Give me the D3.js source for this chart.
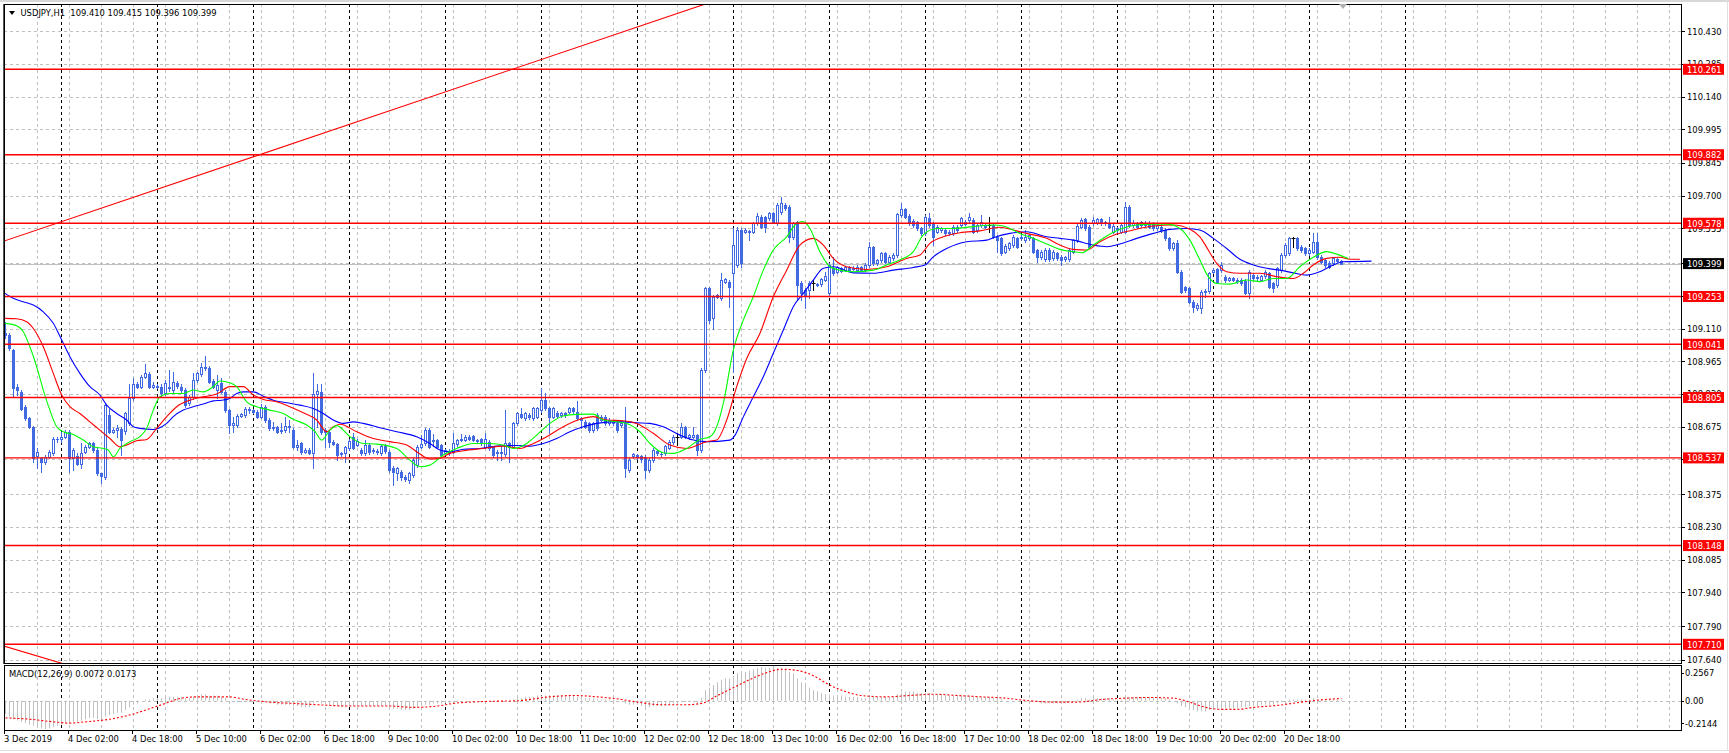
<!DOCTYPE html>
<html><head><meta charset="utf-8">
<script src="https://cdn.jsdelivr.net/npm/d3@7"></script>
<style>html,body{margin:0;padding:0;background:#fff;overflow:hidden}text{font-family:"DejaVu Sans Condensed","Liberation Sans",Arial,sans-serif;font-size:9.3px}</style>
</head><body>
<svg id="c" width="1729" height="753"></svg>
<script>
// ---------------- DATA ----------------
const symbolTitle = "USDJPY,H1  109.410 109.415 109.396 109.399";
const macdTitle = "MACD(12,26,9) 0.0072 0.0173";
const priceTicks = [110.430,110.285,110.140,109.995,109.845,109.700,109.555,109.400,109.255,109.110,108.965,108.820,108.675,108.530,108.375,108.230,108.085,107.940,107.790,107.640];
const levelLines = [110.261,109.882,109.578,109.253,109.041,108.805,108.537,108.148,107.710];
const bidPrice = 109.399;
const macdTicks = [0.2567, 0.00, -0.2144];
const macdTickText = ["0.2567","0.00","-0.2144"];
const timeLabelIdx = [0,16,32,48,64,80,96,112,128,144,160,176,192,208,224,240,256,272,288,304,320];
const timeLabels = ["3 Dec 2019","4 Dec 02:00","4 Dec 18:00","5 Dec 10:00","6 Dec 02:00","6 Dec 18:00","9 Dec 10:00","10 Dec 02:00","10 Dec 18:00","11 Dec 10:00","12 Dec 02:00","12 Dec 18:00","13 Dec 10:00","16 Dec 02:00","16 Dec 18:00","17 Dec 10:00","18 Dec 02:00","18 Dec 18:00","19 Dec 10:00","20 Dec 02:00","20 Dec 18:00"];
const dayStartIdx = [14,38,62,86,110,134,158,182,206,230,254,278,302,326,350];
// trend lines: anchor bar indices and prices
const trendUpIdx = [0,175], trendUpPrice = [109.501,110.551];
const trendDnIdx = [0,14], trendDnPrice = [107.700,107.626];

const opens = [
109.090,109.082,109.015,108.853,108.830,108.764,108.712,108.675,108.545,108.535,
108.520,108.542,108.557,108.623,108.623,108.631,108.653,108.535,108.545,108.512,
108.564,108.586,108.601,108.572,108.468,108.453,108.727,108.653,108.660,108.664,
108.655,108.690,108.801,108.865,108.853,108.897,108.909,108.853,108.858,108.853,
108.823,108.853,108.838,108.870,108.853,108.838,108.779,108.808,108.882,108.909,
108.938,108.938,108.879,108.838,108.870,108.830,108.749,108.683,108.683,108.724,
108.727,108.752,108.749,108.742,108.720,108.764,108.705,108.668,108.672,108.655,
108.660,108.678,108.660,108.586,108.601,108.564,108.572,108.557,108.820,108.830,
108.660,108.653,108.609,108.597,108.554,108.557,108.579,108.631,108.594,108.572,
108.557,108.594,108.566,108.569,108.557,108.590,108.564,108.490,108.468,108.476,
108.453,108.439,108.461,108.505,108.586,108.601,108.660,108.614,108.616,108.594,
108.560,108.569,108.564,108.598,108.616,108.616,108.631,108.634,108.613,108.619,
108.586,108.609,108.586,108.557,108.564,108.554,108.601,108.586,108.690,108.730,
108.712,108.727,108.712,108.720,108.749,108.794,108.757,108.720,108.737,108.727,
108.734,108.742,108.757,108.742,108.712,108.697,108.690,108.660,108.727,108.705,
108.720,108.690,108.697,108.693,108.683,108.690,108.483,108.545,108.549,108.545,
108.542,108.483,108.527,108.566,108.556,108.557,108.583,108.609,108.631,108.631,
108.675,108.631,108.631,108.638,108.572,108.927,109.289,109.156,109.252,109.245,
109.319,109.319,109.356,109.393,109.548,109.540,109.543,109.540,109.577,109.607,
109.604,109.600,109.622,109.577,109.629,109.659,109.651,109.518,109.585,109.311,
109.282,109.282,109.311,109.308,109.308,109.326,109.267,109.378,109.363,109.378,
109.372,109.383,109.376,109.372,109.385,109.372,109.393,109.471,109.400,109.415,
109.444,109.407,109.422,109.437,109.614,109.639,109.610,109.589,109.585,109.555,
109.533,109.600,109.577,109.540,109.548,109.548,109.540,109.533,109.563,109.570,
109.585,109.592,109.592,109.548,109.570,109.570,109.570,109.570,109.518,109.511,
109.452,109.466,109.481,109.511,109.511,109.503,109.511,109.511,109.459,109.429,
109.418,109.459,109.422,109.444,109.429,109.418,109.418,109.452,109.503,109.563,
109.595,109.563,109.577,109.580,109.595,109.577,109.577,109.540,109.555,109.540,
109.540,109.651,109.570,109.577,109.570,109.580,109.580,109.577,109.555,109.563,
109.548,109.511,109.466,109.489,109.363,109.296,109.289,109.230,109.200,109.200,
109.271,109.279,109.363,109.373,109.370,109.341,109.326,109.333,109.326,109.326,
109.323,109.270,109.348,109.333,109.326,109.344,109.356,109.311,109.304,109.370,
109.437,109.444,109.511,109.511,109.474,109.466,109.444,109.452,109.496,109.429,
109.415,109.400,109.400,109.420,109.410];
const highs = [
109.141,109.089,109.020,108.867,108.838,108.770,108.720,108.680,108.579,108.540,
108.550,108.572,108.631,108.631,108.653,108.660,108.660,108.580,108.560,108.601,
108.594,108.609,108.609,108.580,108.470,108.779,108.756,108.668,108.683,108.672,
108.742,108.867,108.890,108.875,108.905,108.952,108.920,108.875,108.865,108.867,
108.882,108.927,108.919,108.878,108.867,108.845,108.815,108.912,108.920,108.959,
108.989,108.945,108.885,108.904,108.890,108.838,108.756,108.720,108.730,108.737,
108.764,108.764,108.756,108.749,108.775,108.771,108.712,108.697,108.680,108.690,
108.720,108.705,108.668,108.616,108.609,108.579,108.579,108.912,108.867,108.867,
108.668,108.660,108.616,108.605,108.565,108.590,108.620,108.646,108.620,108.579,
108.616,108.601,108.580,108.575,108.598,108.598,108.570,108.500,108.497,108.483,
108.460,108.475,108.535,108.594,108.638,108.668,108.668,108.643,108.623,108.600,
108.578,108.578,108.649,108.623,108.643,108.640,108.638,108.640,108.623,108.626,
108.646,108.616,108.590,108.570,108.586,108.749,108.608,108.697,108.742,108.757,
108.742,108.735,108.764,108.764,108.845,108.823,108.764,108.764,108.745,108.740,
108.740,108.765,108.765,108.791,108.720,108.705,108.697,108.697,108.734,108.727,
108.727,108.712,108.705,108.700,108.700,108.764,108.535,108.560,108.556,108.550,
108.550,108.535,108.580,108.572,108.565,108.596,108.616,108.638,108.646,108.694,
108.680,108.645,108.675,108.645,108.935,109.296,109.296,109.260,109.265,109.356,
109.336,109.326,109.555,109.563,109.555,109.555,109.550,109.585,109.622,109.614,
109.610,109.630,109.630,109.666,109.696,109.670,109.660,109.585,109.590,109.320,
109.290,109.320,109.326,109.315,109.335,109.360,109.400,109.429,109.390,109.385,
109.390,109.390,109.387,109.392,109.390,109.400,109.496,109.478,109.420,109.450,
109.450,109.437,109.445,109.625,109.666,109.645,109.617,109.595,109.590,109.560,
109.614,109.622,109.585,109.570,109.560,109.555,109.548,109.570,109.570,109.607,
109.593,109.625,109.600,109.575,109.614,109.577,109.607,109.577,109.525,109.518,
109.485,109.496,109.525,109.518,109.526,109.548,109.530,109.518,109.465,109.460,
109.466,109.466,109.460,109.450,109.435,109.433,109.466,109.510,109.573,109.600,
109.600,109.570,109.607,109.600,109.600,109.590,109.607,109.573,109.560,109.577,
109.674,109.659,109.592,109.585,109.590,109.587,109.587,109.585,109.577,109.570,
109.555,109.518,109.496,109.503,109.370,109.300,109.296,109.237,109.222,109.280,
109.285,109.363,109.378,109.380,109.407,109.348,109.340,109.340,109.333,109.333,
109.330,109.370,109.356,109.348,109.350,109.370,109.363,109.318,109.385,109.444,
109.489,109.518,109.518,109.518,109.480,109.473,109.466,109.533,109.533,109.437,
109.420,109.410,109.430,109.425,109.415];
const lows = [
109.067,109.015,108.808,108.816,108.750,108.705,108.668,108.520,108.490,108.476,
108.512,108.535,108.550,108.609,108.609,108.625,108.476,108.483,108.505,108.490,
108.557,108.579,108.565,108.461,108.424,108.445,108.646,108.646,108.631,108.549,
108.645,108.683,108.795,108.845,108.845,108.890,108.845,108.848,108.845,108.808,
108.815,108.835,108.830,108.845,108.830,108.764,108.771,108.800,108.875,108.900,
108.927,108.868,108.845,108.801,108.823,108.742,108.649,108.653,108.675,108.718,
108.720,108.734,108.735,108.712,108.712,108.697,108.660,108.660,108.646,108.646,
108.653,108.653,108.579,108.572,108.554,108.557,108.555,108.490,108.675,108.645,
108.586,108.586,108.594,108.527,108.545,108.520,108.572,108.576,108.588,108.550,
108.550,108.556,108.560,108.555,108.550,108.560,108.476,108.416,108.439,108.439,
108.435,108.427,108.453,108.498,108.580,108.594,108.580,108.591,108.579,108.542,
108.552,108.550,108.557,108.590,108.610,108.610,108.615,108.610,108.605,108.595,
108.580,108.572,108.542,108.527,108.527,108.547,108.520,108.579,108.683,108.715,
108.705,108.710,108.705,108.715,108.742,108.750,108.646,108.712,108.715,108.720,
108.720,108.735,108.737,108.705,108.668,108.668,108.653,108.653,108.660,108.700,
108.683,108.683,108.685,108.653,108.676,108.453,108.476,108.535,108.532,108.520,
108.446,108.476,108.520,108.552,108.545,108.550,108.576,108.600,108.594,108.624,
108.624,108.620,108.625,108.549,108.565,108.920,109.134,109.111,109.245,109.237,
109.312,109.208,108.919,109.385,109.385,109.533,109.503,109.533,109.570,109.555,
109.540,109.592,109.578,109.570,109.620,109.637,109.496,109.510,109.237,109.237,
109.200,109.245,109.282,109.298,109.300,109.320,109.260,109.350,109.356,109.360,
109.365,109.365,109.370,109.366,109.365,109.365,109.385,109.393,109.393,109.405,
109.400,109.400,109.415,109.430,109.607,109.600,109.570,109.563,109.548,109.526,
109.526,109.563,109.481,109.533,109.540,109.526,109.526,109.526,109.540,109.563,
109.570,109.585,109.533,109.540,109.563,109.555,109.540,109.511,109.452,109.437,
109.445,109.460,109.474,109.466,109.503,109.496,109.505,109.444,109.407,109.420,
109.410,109.410,109.415,109.415,109.393,109.410,109.410,109.445,109.496,109.555,
109.548,109.466,109.570,109.575,109.570,109.570,109.556,109.533,109.540,109.533,
109.533,109.563,109.563,109.555,109.563,109.563,109.556,109.548,109.548,109.540,
109.503,109.459,109.459,109.356,109.267,109.274,109.222,109.185,109.193,109.178,
109.252,109.270,109.356,109.311,109.363,109.319,109.320,109.320,109.312,109.304,
109.263,109.245,109.326,109.326,109.320,109.337,109.289,109.274,109.296,109.363,
109.430,109.437,109.474,109.459,109.452,109.437,109.437,109.445,109.420,109.400,
109.385,109.378,109.393,109.405,109.396];
const closes = [
109.080,109.023,108.845,108.838,108.756,108.712,108.675,108.535,108.565,108.520,
108.542,108.564,108.623,108.620,108.631,108.653,108.535,108.572,108.512,108.557,
108.586,108.601,108.572,108.468,108.455,108.771,108.653,108.660,108.668,108.616,
108.734,108.801,108.867,108.853,108.897,108.912,108.853,108.860,108.853,108.823,
108.870,108.845,108.875,108.855,108.840,108.771,108.808,108.882,108.912,108.941,
108.941,108.875,108.853,108.860,108.830,108.749,108.683,108.690,108.722,108.730,
108.752,108.749,108.742,108.720,108.764,108.705,108.668,108.675,108.653,108.660,
108.678,108.676,108.586,108.594,108.564,108.572,108.560,108.820,108.835,108.653,
108.653,108.609,108.600,108.549,108.560,108.586,108.613,108.583,108.613,108.557,
108.594,108.564,108.572,108.562,108.590,108.566,108.483,108.476,108.490,108.453,
108.442,108.468,108.527,108.586,108.598,108.660,108.586,108.616,108.586,108.550,
108.570,108.558,108.601,108.616,108.623,108.631,108.620,108.616,108.616,108.601,
108.623,108.579,108.550,108.564,108.557,108.601,108.586,108.690,108.734,108.720,
108.734,108.717,108.757,108.757,108.794,108.757,108.720,108.757,108.722,108.734,
108.727,108.757,108.745,108.712,108.705,108.675,108.660,108.690,108.668,108.720,
108.690,108.705,108.692,108.660,108.693,108.490,108.527,108.554,108.540,108.532,
108.483,108.527,108.572,108.560,108.554,108.589,108.609,108.631,108.631,108.672,
108.631,108.638,108.638,108.572,108.927,109.289,109.148,109.252,109.259,109.326,
109.329,109.296,109.481,109.548,109.400,109.548,109.540,109.577,109.610,109.563,
109.563,109.622,109.585,109.659,109.666,109.644,109.518,109.577,109.304,109.267,
109.259,109.311,109.311,109.304,109.329,109.344,109.393,109.356,109.385,109.366,
109.385,109.372,109.380,109.385,109.372,109.393,109.471,109.400,109.415,109.444,
109.407,109.429,109.437,109.619,109.639,109.607,109.577,109.570,109.555,109.533,
109.607,109.570,109.518,109.563,109.555,109.533,109.533,109.563,109.548,109.600,
109.575,109.607,109.540,109.570,109.585,109.563,109.570,109.518,109.503,109.444,
109.477,109.489,109.518,109.474,109.518,109.518,109.526,109.452,109.429,109.452,
109.459,109.418,109.452,109.422,109.415,109.427,109.459,109.503,109.566,109.592,
109.555,109.474,109.592,109.595,109.577,109.585,109.563,109.566,109.548,109.570,
109.651,109.570,109.577,109.563,109.585,109.570,109.563,109.555,109.570,109.548,
109.511,109.466,109.489,109.363,109.274,109.282,109.230,109.208,109.215,109.274,
109.279,109.356,109.370,109.319,109.393,109.326,109.333,109.326,109.320,109.311,
109.270,109.363,109.333,109.341,109.344,109.363,109.296,109.289,109.378,109.437,
109.481,109.511,109.511,109.466,109.459,109.444,109.459,109.496,109.429,109.407,
109.393,109.385,109.422,109.410,109.399];

// Alligator lines: [bar position (incl. forward shift), price]
const jawPts = [[-0.1,109.267],[1.95,109.245],[5.3,109.225],[6.95,109.215],[9.45,109.185],[11.95,109.134],[14.05,109.060],[16.1,108.986],[18.6,108.912],[21.1,108.853],[23.6,108.816],[25.3,108.771],[27.8,108.734],[30.3,108.705],[31.95,108.675],[33.6,108.668],[36.95,108.663],[38.2,108.668],[40.3,108.690],[41.95,108.720],[44.45,108.749],[46.95,108.764],[49.45,108.776],[51.95,108.790],[54.05,108.793],[56.1,108.801],[57.8,108.823],[59.45,108.830],[61.95,108.830],[64.45,108.811],[66.95,108.793],[70.3,108.782],[73.6,108.771],[76.95,108.756],[79.45,108.734],[81.95,108.705],[84.45,108.690],[86.95,108.697],[89.45,108.690],[93.6,108.671],[97.8,108.653],[102.8,108.631],[106.1,108.601],[108.6,108.572],[111.1,108.564],[114.45,108.575],[118.6,108.579],[122.8,108.589],[127.8,108.592],[131.1,108.589],[134.45,108.601],[137.8,108.623],[141.1,108.653],[144.45,108.675],[147.8,108.690],[151.1,108.697],[154.45,108.697],[157.8,108.693],[161.1,108.690],[164.45,108.675],[168.6,108.638],[171.95,108.616],[175.3,108.609],[181.1,108.616],[182.4,108.638],[184.45,108.719],[186.95,108.808],[189.45,108.897],[191.95,109.001],[194.45,109.104],[196.95,109.208],[199.45,109.267],[201.95,109.326],[204.45,109.378],[206.95,109.385],[211.95,109.358],[216.95,109.356],[221.95,109.370],[226.95,109.382],[229.9,109.393],[231.95,109.429],[235.3,109.466],[240.3,109.496],[245.3,109.503],[246.95,109.514],[251.1,109.533],[255.3,109.540],[260.3,109.518],[263.6,109.511],[266.95,109.503],[271.95,109.481],[275.3,109.474],[278.6,109.486],[282.8,109.511],[286.95,109.533],[291.1,109.551],[295.3,109.555],[298.6,109.548],[301.95,109.511],[305.3,109.466],[308.6,109.418],[311.95,109.393],[315.3,109.378],[318.6,109.370],[321.95,109.358],[325.3,109.348],[328.6,109.363],[331.95,109.393],[334.45,109.407],[341.5,109.410]];
const teethPts = [[-0.1,109.156],[2.8,109.154],[5.3,109.141],[6.95,109.111],[9.45,109.030],[11.95,108.912],[14.05,108.816],[16.1,108.764],[18.6,108.734],[21.1,108.697],[23.6,108.660],[26.1,108.623],[28.6,108.586],[30.3,108.594],[32.8,108.613],[35.3,108.619],[37.8,108.668],[40.3,108.720],[42.8,108.764],[46.1,108.793],[49.45,108.808],[52.8,108.820],[56.1,108.853],[59.45,108.853],[61.95,108.816],[64.45,108.796],[67.8,108.786],[71.1,108.764],[74.45,108.737],[77.8,108.705],[80.3,108.653],[81.95,108.675],[83.6,108.686],[87.8,108.653],[91.95,108.623],[96.1,108.609],[100.3,108.594],[103.6,108.554],[106.1,108.532],[108.6,108.535],[111.1,108.557],[114.45,108.569],[119.45,108.579],[124.45,108.589],[128.6,108.579],[131.1,108.594],[135.3,108.631],[139.45,108.675],[143.6,108.708],[146.95,108.720],[150.3,108.705],[154.45,108.702],[157.8,108.690],[161.95,108.646],[166.1,108.594],[170.3,108.579],[175.3,108.609],[177.8,108.616],[180.3,108.705],[182.8,108.853],[185.3,108.978],[188.6,109.089],[191.95,109.252],[195.3,109.370],[198.6,109.481],[201.95,109.511],[204.45,109.481],[206.95,109.422],[210.3,109.385],[215.3,109.373],[220.3,109.385],[225.3,109.422],[228.6,109.437],[231.1,109.489],[234.45,109.518],[238.6,109.536],[243.6,109.544],[248.6,109.560],[251.95,109.548],[255.3,109.533],[260.3,109.511],[263.6,109.481],[266.95,109.462],[270.3,109.459],[273.6,109.496],[277.8,109.530],[281.95,109.548],[286.95,109.566],[291.95,109.570],[296.1,109.551],[298.6,109.518],[300.7,109.459],[302.8,109.400],[305.3,109.363],[308.6,109.356],[313.6,109.356],[317.8,109.341],[321.95,109.333],[324.45,109.356],[326.95,109.393],[330.3,109.422],[333.6,109.427],[336.1,109.418],[338.6,109.418]];
const lipsPts = [[-0.1,109.134],[2.4,109.126],[4.45,109.097],[6.1,109.030],[7.8,108.941],[9.45,108.838],[11.1,108.749],[12.8,108.675],[14.45,108.653],[16.95,108.641],[19.45,108.616],[21.95,108.586],[24.45,108.579],[25.7,108.572],[26.95,108.542],[28.6,108.579],[31.1,108.609],[33.6,108.631],[35.3,108.668],[36.95,108.749],[38.6,108.808],[41.1,108.823],[44.45,108.823],[46.95,108.838],[49.45,108.830],[51.95,108.853],[53.6,108.878],[56.1,108.870],[57.8,108.853],[60.3,108.786],[62.8,108.764],[66.1,108.749],[69.45,108.734],[71.95,108.708],[75.3,108.683],[77.4,108.653],[79.05,108.616],[81.1,108.660],[82.8,108.680],[86.1,108.631],[89.45,108.601],[92.8,108.598],[97.8,108.579],[101.1,108.527],[103.6,108.498],[106.1,108.505],[109.45,108.550],[112.8,108.579],[116.95,108.601],[121.1,108.601],[124.45,108.594],[126.95,108.579],[130.3,108.601],[132.8,108.638],[136.1,108.690],[139.45,108.723],[142.8,108.730],[146.95,108.731],[149.45,108.705],[152.8,108.697],[155.3,108.690],[158.6,108.653],[161.1,108.601],[164.45,108.560],[166.95,108.557],[170.3,108.579],[173.6,108.619],[176.1,108.631],[177.8,108.675],[179.45,108.779],[181.95,109.015],[184.45,109.148],[186.95,109.252],[189.45,109.370],[191.95,109.459],[195.3,109.518],[197.8,109.577],[199.45,109.585],[201.1,109.555],[203.6,109.452],[206.1,109.385],[208.6,109.370],[211.95,109.363],[216.95,109.370],[220.3,109.393],[223.6,109.415],[226.95,109.452],[229.45,109.526],[232.8,109.555],[236.95,109.555],[241.95,109.563],[246.95,109.570],[249.45,109.566],[253.6,109.533],[256.95,109.511],[260.3,109.486],[263.6,109.462],[266.95,109.452],[269.05,109.447],[271.95,109.481],[275.3,109.521],[278.6,109.551],[282.8,109.570],[286.95,109.574],[290.3,109.574],[293.6,109.555],[296.1,109.503],[298.6,109.415],[300.7,109.341],[302.8,109.311],[306.1,109.308],[310.3,109.326],[313.6,109.319],[316.95,109.333],[320.3,109.333],[323.6,109.385],[326.95,109.427],[330.3,109.452],[332.8,109.441],[335.7,109.422]];

const macdMain = [
-0.100,-0.120,-0.140,-0.150,-0.160,-0.170,-0.180,-0.190,-0.200,-0.210,
-0.2144,-0.210,-0.200,-0.190,-0.180,-0.170,-0.170,-0.160,-0.160,-0.150,
-0.140,-0.130,-0.130,-0.140,-0.150,-0.120,-0.110,-0.100,-0.090,-0.090,
-0.070,-0.050,-0.030,-0.020,0.000,0.010,0.010,0.020,0.020,0.020,
0.030,0.030,0.030,0.030,0.030,0.020,0.020,0.030,0.040,0.050,
0.050,0.040,0.040,0.040,0.030,0.020,0.000,-0.010,-0.010,-0.010,
-0.010,-0.010,-0.010,-0.010,-0.010,-0.010,-0.020,-0.020,-0.030,-0.030,
-0.030,-0.030,-0.040,-0.040,-0.050,-0.050,-0.050,-0.020,-0.010,-0.020,
-0.030,-0.030,-0.040,-0.040,-0.050,-0.050,-0.040,-0.040,-0.040,-0.040,
-0.040,-0.040,-0.040,-0.040,-0.040,-0.040,-0.050,-0.060,-0.060,-0.070,
-0.070,-0.070,-0.060,-0.050,-0.040,-0.030,-0.030,-0.020,-0.020,-0.020,
-0.020,-0.020,-0.010,-0.010,0.000,0.000,0.000,0.000,0.000,0.000,
0.000,0.000,-0.010,-0.010,-0.010,0.000,0.000,0.010,0.020,0.020,
0.030,0.030,0.030,0.040,0.040,0.040,0.040,0.040,0.040,0.040,
0.040,0.040,0.040,0.030,0.030,0.020,0.020,0.020,0.010,0.010,
0.010,0.010,0.010,0.000,0.000,-0.020,-0.030,-0.030,-0.030,-0.040,
-0.050,-0.050,-0.040,-0.040,-0.040,-0.040,-0.030,-0.020,-0.020,-0.010,
-0.010,-0.010,-0.010,-0.020,0.020,0.080,0.100,0.120,0.140,0.160,
0.170,0.170,0.190,0.210,0.210,0.220,0.230,0.240,0.250,0.2567,
0.250,0.250,0.250,0.250,0.250,0.240,0.220,0.210,0.170,0.140,
0.120,0.100,0.080,0.070,0.060,0.050,0.050,0.040,0.040,0.040,
0.030,0.030,0.030,0.030,0.020,0.020,0.030,0.030,0.030,0.030,
0.030,0.030,0.030,0.050,0.060,0.070,0.070,0.070,0.060,0.060,
0.060,0.060,0.050,0.050,0.050,0.040,0.040,0.040,0.040,0.040,
0.040,0.040,0.030,0.030,0.030,0.030,0.030,0.020,0.020,0.010,
0.000,0.000,0.000,0.000,0.000,0.000,0.000,-0.010,-0.010,-0.020,
-0.020,-0.020,-0.020,-0.020,-0.020,-0.020,-0.010,0.000,0.010,0.020,
0.020,0.010,0.020,0.020,0.020,0.020,0.020,0.010,0.010,0.010,
0.030,0.030,0.030,0.030,0.030,0.030,0.030,0.030,0.030,0.020,
0.020,0.010,0.000,-0.020,-0.040,-0.050,-0.060,-0.070,-0.080,-0.080,
-0.080,-0.070,-0.070,-0.070,-0.060,-0.060,-0.060,-0.060,-0.060,-0.050,
-0.050,-0.040,-0.040,-0.040,-0.030,-0.030,-0.030,-0.030,-0.020,-0.010,
0.000,0.010,0.010,0.010,0.010,0.010,0.010,0.020,0.010,0.010,
0.010,0.010,0.010,0.010,0.0072];
const macdSignalPts = [[0,-0.13],[6,-0.14],[12,-0.16],[16,-0.17],[20,-0.16],[26,-0.14],[32,-0.10],[36,-0.06],[40,-0.02],[44,0.02],[48,0.03],[56,0.03],[60,0.01],[66,-0.01],[72,-0.02],[78,-0.03],[86,-0.04],[96,-0.04],[102,-0.05],[108,-0.04],[112,-0.02],[120,-0.005],[128,0.0],[136,0.03],[142,0.04],[148,0.03],[154,0.01],[158,-0.01],[164,-0.03],[170,-0.03],[174,-0.02],[178,0.04],[182,0.10],[186,0.16],[190,0.21],[194,0.24],[198,0.23],[202,0.19],[206,0.12],[210,0.07],[214,0.04],[220,0.03],[226,0.04],[232,0.05],[238,0.04],[244,0.03],[250,0.02],[256,0.00],[262,-0.01],[268,-0.01],[274,0.01],[280,0.02],[286,0.025],[292,0.02],[296,-0.01],[300,-0.05],[304,-0.065],[308,-0.065],[312,-0.05],[318,-0.035],[324,-0.01],[330,0.01],[334,0.0173]];

// ---------------- LAYOUT ----------------
const svg = d3.select('#c');
const L = 4, R = 1681, T = 4, B = 663, MT = 665, MB = 730;
const BLUE = '#4169e1', GRID = '#c0c0c0';
const x = d3.scaleLinear().domain([0, 334]).range([5.5, 1341.5]);
const y = d3.scaleLinear().domain([107.710, 110.261]).range([644.3, 69.3]);
const ym = d3.scaleLinear().domain([-0.2144, 0.2567]).range([729, 667]);

svg.append('rect').attr('width',1729).attr('height',753).attr('fill','#fff');
const defs = svg.append('defs');
defs.append('clipPath').attr('id','cm').append('rect').attr('x',L+1).attr('y',T+1).attr('width',R-L-1).attr('height',B-T-1);
defs.append('clipPath').attr('id','cmacd').append('rect').attr('x',L+1).attr('y',MT+1).attr('width',R-L-1).attr('height',MB-MT-1);

// outer light frame
svg.append('line').attr('x1',0).attr('x2',1729).attr('y1',1).attr('y2',1).attr('stroke','#d8d8d8').attr('stroke-width',2);
svg.append('line').attr('x1',1727.5).attr('x2',1727.5).attr('y1',0).attr('y2',751).attr('stroke','#e0e0e0');
svg.append('line').attr('x1',0).attr('x2',1729).attr('y1',750.5).attr('y2',750.5).attr('stroke','#e0e0e0');

// grids
const gGrid = svg.append('g');
const px = v => Math.round(v) + 0.5;
gGrid.selectAll('line.hg').data(priceTicks).join('line')
  .attr('x1',L).attr('x2',R).attr('y1',d=>px(y(d))).attr('y2',d=>px(y(d)))
  .attr('stroke',GRID).attr('stroke-dasharray','3,3');
const vIdx = d3.range(8, 420, 8).filter(i => x(i) < R - 2);
gGrid.selectAll('line.vg').data(vIdx).join('line')
  .attr('x1',d=>x(d)).attr('x2',d=>x(d)).attr('y1',T).attr('y2',B)
  .attr('stroke',GRID).attr('stroke-dasharray','3,3');
gGrid.selectAll('line.vgm').data(vIdx).join('line')
  .attr('x1',d=>x(d)).attr('x2',d=>x(d)).attr('y1',MT).attr('y2',MB)
  .attr('stroke',GRID).attr('stroke-dasharray','3,3');
gGrid.append('line').attr('x1',L).attr('x2',R).attr('y1',px(ym(0))).attr('y2',px(ym(0)))
  .attr('stroke',GRID).attr('stroke-dasharray','3,3');

// day separators
const gSep = svg.append('g');
gSep.selectAll('line.ds').data(dayStartIdx).join('line')
  .attr('x1',d=>x(d)).attr('x2',d=>x(d)).attr('y1',T).attr('y2',B)
  .attr('stroke','#000').attr('stroke-dasharray','3,3');
gSep.selectAll('line.dsm').data(dayStartIdx).join('line')
  .attr('x1',d=>x(d)).attr('x2',d=>x(d)).attr('y1',MT).attr('y2',MB)
  .attr('stroke','#000').attr('stroke-dasharray','3,3');

// bid line
svg.append('line').attr('x1',L).attr('x2',R).attr('y1',px(y(bidPrice))).attr('y2',px(y(bidPrice)))
  .attr('stroke','#c0c0c0');

// candles
const gC = svg.append('g').attr('clip-path','url(#cm)');
const candles = opens.map((o,i)=>({i, o, h:highs[i], l:lows[i], c:closes[i]}));
const isDoji = d => Math.abs(d.o - d.c) < 0.0005;
gC.selectAll('line.wick').data(candles).join('line')
  .attr('x1',d=>x(d.i)).attr('x2',d=>x(d.i))
  .attr('y1',d=>Math.round(y(d.h))).attr('y2',d=>Math.round(y(d.l))+1)
  .attr('stroke',d=>isDoji(d)?'#000':BLUE);
gC.selectAll('rect.bear').data(candles.filter(d=>!isDoji(d) && d.c < d.o)).join('rect')
  .attr('x',d=>x(d.i)-1.5).attr('width',3)
  .attr('y',d=>Math.round(y(d.o))).attr('height',d=>Math.max(1, Math.round(y(d.c))-Math.round(y(d.o))+1))
  .attr('fill',BLUE);
gC.selectAll('rect.bull').data(candles.filter(d=>!isDoji(d) && d.c > d.o)).join('rect')
  .attr('x',d=>x(d.i)-1).attr('width',2)
  .attr('y',d=>Math.round(y(d.c))+0.5).attr('height',d=>Math.max(0.5, Math.round(y(d.o))-Math.round(y(d.c))))
  .attr('fill','#fff').attr('stroke',BLUE);
gC.selectAll('line.doji').data(candles.filter(isDoji)).join('line')
  .attr('x1',d=>x(d.i)-2).attr('x2',d=>x(d.i)+2)
  .attr('y1',d=>px(y(d.o))).attr('y2',d=>px(y(d.o))).attr('stroke','#000');

// alligator lines
const lineGen = d3.line().x(d=>x(d[0])).y(d=>y(d[1])).curve(d3.curveMonotoneX);
const gMA = svg.append('g').attr('clip-path','url(#cm)');
[[jawPts,'#0000ff'],[teethPts,'#ff0000'],[lipsPts,'#00ff00']].forEach(([pts,col])=>{
  gMA.append('path').attr('d',lineGen(pts)).attr('fill','none').attr('stroke',col).attr('stroke-width',1.1);
});

// horizontal level lines
const gLv = svg.append('g');
gLv.selectAll('line').data(levelLines).join('line')
  .attr('x1',L).attr('x2',R).attr('y1',d=>y(d)).attr('y2',d=>y(d))
  .attr('stroke','#ff0000').attr('stroke-width',1.4);

// trend lines (extended and clipped)
const gTr = svg.append('g').attr('clip-path','url(#cm)');
function trend(idx, pr){
  const k = (pr[1]-pr[0])/(idx[1]-idx[0]);
  const a = -10, b = 420;
  gTr.append('line').attr('x1',x(a)).attr('y1',y(pr[0]+k*(a-idx[0])))
    .attr('x2',x(b)).attr('y2',y(pr[0]+k*(b-idx[0])))
    .attr('stroke','#ff0000').attr('stroke-width',1.1);
}
trend(trendUpIdx, trendUpPrice);
trend(trendDnIdx, trendDnPrice);

// MACD
const gM = svg.append('g').attr('clip-path','url(#cmacd)');
gM.selectAll('line.h').data(macdMain.map((v,i)=>({i,v}))).join('line')
  .attr('x1',d=>x(d.i)).attr('x2',d=>x(d.i))
  .attr('y1',d=>ym(0)).attr('y2',d=>ym(d.v))
  .attr('stroke','#c0c0c0');
const sigGen = d3.line().x(d=>x(d[0])).y(d=>ym(d[1])).curve(d3.curveMonotoneX);
gM.append('path').attr('d',sigGen(macdSignalPts)).attr('fill','none')
  .attr('stroke','#ff0000').attr('stroke-width',1.1).attr('stroke-dasharray','2,2');

// frames
svg.append('rect').attr('x',L+0.5).attr('y',T+0.5).attr('width',R-L).attr('height',B-T)
  .attr('fill','none').attr('stroke','#000');
svg.append('line').attr('x1',L-0.5).attr('x2',L-0.5).attr('y1',T).attr('y2',B+1).attr('stroke','#555');
svg.append('rect').attr('x',L+0.5).attr('y',MT+0.5).attr('width',R-L).attr('height',MB-MT)
  .attr('fill','none').attr('stroke','#000');

// price axis
const gA = svg.append('g');
gA.selectAll('line.t').data(priceTicks).join('line')
  .attr('x1',R).attr('x2',R+4).attr('y1',d=>px(y(d))).attr('y2',d=>px(y(d))).attr('stroke','#000');
gA.selectAll('text.t').data(priceTicks).join('text')
  .attr('x',R+6).attr('y',d=>y(d)+3.3).text(d=>d.toFixed(3)).attr('fill','#000');
// level labels (cover the axis labels beneath, as in the terminal)
const gLb = svg.append('g');
gLb.selectAll('rect').data(levelLines).join('rect')
  .attr('x',R+2).attr('width',41).attr('y',d=>y(d)-5.5).attr('height',11).attr('fill','#ff0000');
gLb.selectAll('text').data(levelLines).join('text')
  .attr('x',R+6).attr('y',d=>y(d)+3.3).attr('fill','#fff').text(d=>d.toFixed(3));
gLb.append('rect').attr('x',R+2).attr('width',41).attr('y',y(bidPrice)-5.5).attr('height',11).attr('fill','#000');
gLb.append('text').attr('x',R+6).attr('y',y(bidPrice)+3.3).attr('fill','#fff').text(bidPrice.toFixed(3));

// macd axis
const macdLabelY = [672.7, ym(0), 723.3];
gA.selectAll('line.mt').data(macdTicks).join('line')
  .attr('x1',R).attr('x2',R+3).attr('y1',(d,i)=>px(macdLabelY[i])).attr('y2',(d,i)=>px(macdLabelY[i])).attr('stroke','#000');
gA.selectAll('text.mt').data(macdTicks).join('text')
  .attr('x',R+4).attr('y',(d,i)=>macdLabelY[i]+3.3).text((d,i)=>macdTickText[i]);

// time axis
gA.selectAll('line.xt').data(timeLabelIdx).join('line')
  .attr('x1',d=>Math.round(x(d))-1.5).attr('x2',d=>Math.round(x(d))-1.5).attr('y1',MB).attr('y2',MB+4).attr('stroke','#000');
gA.selectAll('text.xt').data(timeLabelIdx).join('text')
  .attr('x',d=>x(d)-1.5).attr('y',742).text((d,i)=>timeLabels[i]);

// titles
svg.append('path').attr('d','M9,11 L15,11 L12,15 Z').attr('fill','#000');
svg.append('text').attr('x',20.5).attr('y',16).style('white-space','pre').text(symbolTitle);
svg.append('text').attr('x',9).attr('y',677).style('white-space','pre').text(macdTitle);
// chart shift marker
svg.append('path').attr('d','M1339,4 L1347,4 L1343,9 Z').attr('fill','#b0b0b0');
</script></body></html>
